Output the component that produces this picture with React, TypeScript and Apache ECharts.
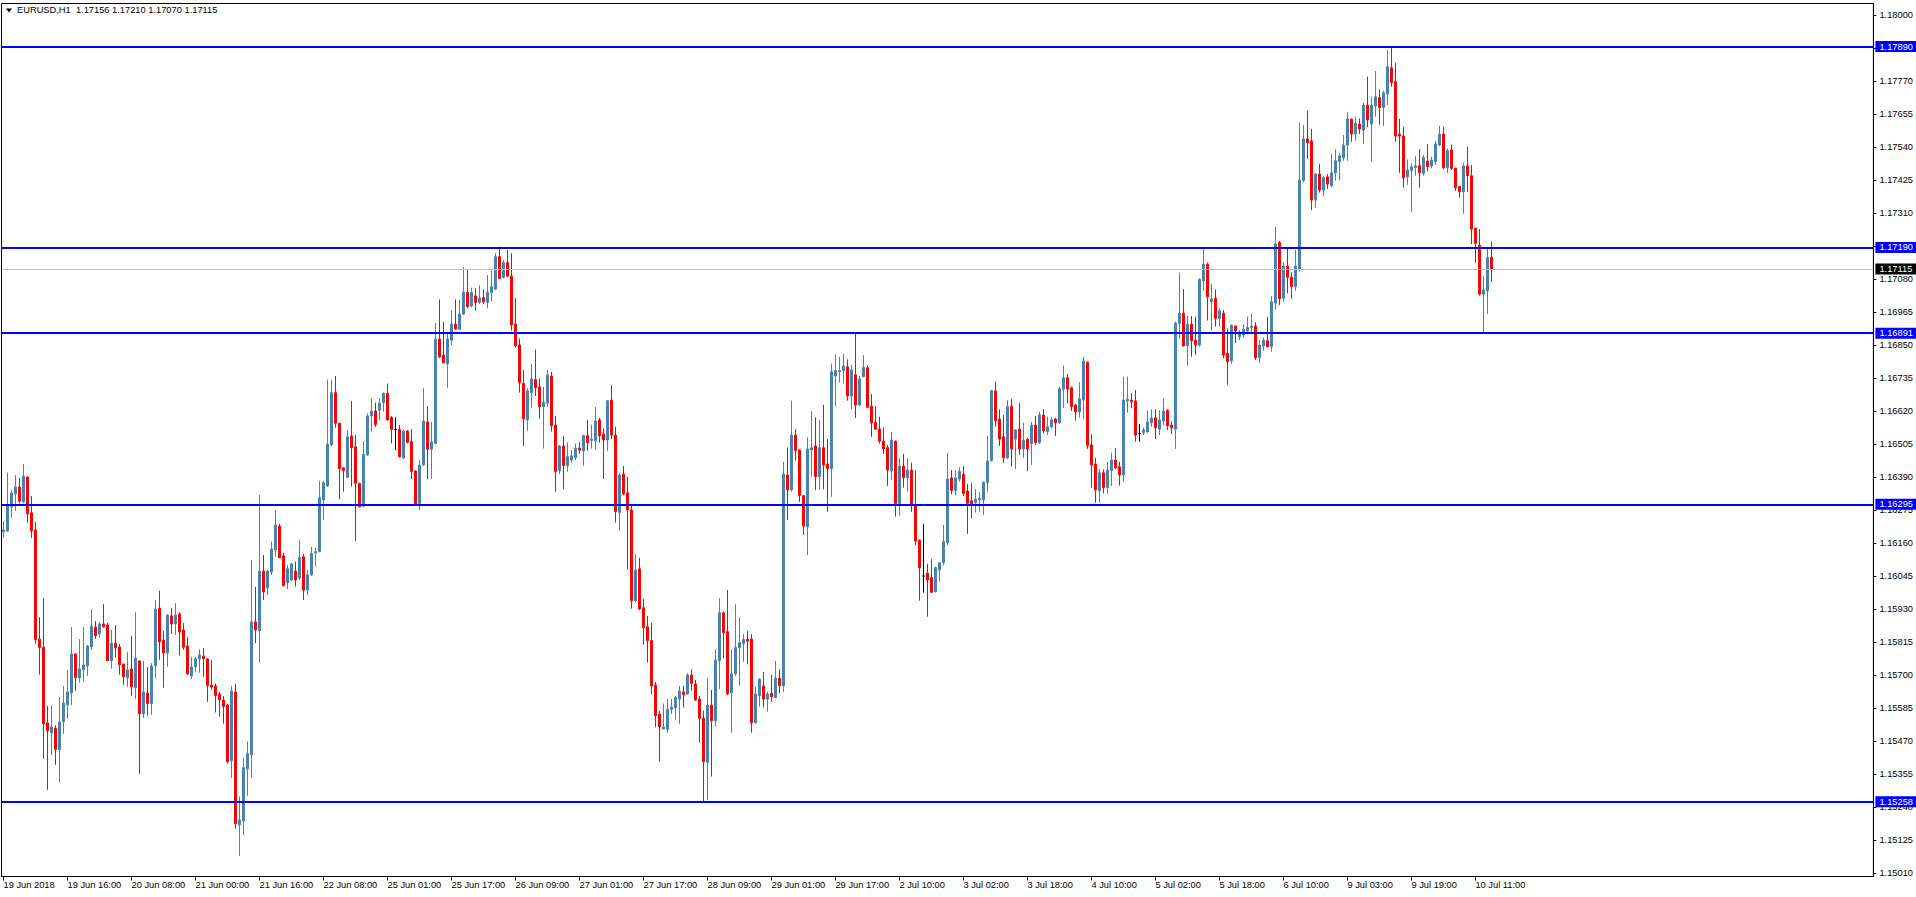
import React, { useEffect, useRef } from 'react';
import * as echarts from 'echarts';

const symbol = 'EURUSD';
const timeframe = 'H1';

// Hourly bars: [open, high, low, close]
const bars: number[][] = [
  [1.16199,1.16237,1.16178,1.16205],[1.16202,1.16405,1.16199,1.16290],[1.16286,1.16345,1.16248,1.16334],[1.16331,1.16397,1.16272,1.16355],
  [1.16355,1.16387,1.16298,1.16306],[1.16304,1.16435,1.16298,1.16393],[1.16390,1.16393,1.16231,1.16262],[1.16265,1.16324,1.16178,1.16202],
  [1.16205,1.16233,1.15809,1.15823],[1.15825,1.15902,1.15701,1.15795],[1.15797,1.15968,1.15408,1.15530],[1.15533,1.15592,1.15300,1.15506],
  [1.15499,1.15595,1.15421,1.15519],[1.15515,1.15525,1.15387,1.15440],[1.15440,1.15623,1.15325,1.15536],[1.15537,1.15662,1.15495,1.15602],
  [1.15596,1.15717,1.15547,1.15641],[1.15638,1.15867,1.15596,1.15773],[1.15773,1.15776,1.15645,1.15691],[1.15690,1.15825,1.15673,1.15721],
  [1.15718,1.15867,1.15677,1.15735],[1.15732,1.15805,1.15697,1.15801],[1.15798,1.15930,1.15788,1.15870],[1.15867,1.15888,1.15826,1.15837],
  [1.15844,1.15885,1.15830,1.15878],[1.15878,1.15947,1.15865,1.15868],[1.15874,1.15881,1.15748,1.15750],[1.15750,1.15857,1.15722,1.15811],
  [1.15811,1.15874,1.15760,1.15795],[1.15797,1.15808,1.15701,1.15736],[1.15738,1.15740,1.15666,1.15694],[1.15690,1.15780,1.15659,1.15718],
  [1.15721,1.15836,1.15628,1.15659],[1.15656,1.15919,1.15617,1.15759],[1.15749,1.15751,1.15356,1.15565],[1.15565,1.15749,1.15551,1.15641],
  [1.15637,1.15728,1.15558,1.15600],[1.15600,1.15742,1.15561,1.15731],[1.15732,1.15961,1.15690,1.15930],[1.15933,1.15993,1.15753,1.15815],
  [1.15822,1.15853,1.15656,1.15777],[1.15777,1.15912,1.15729,1.15909],[1.15906,1.15933,1.15843,1.15878],[1.15878,1.15951,1.15839,1.15909],
  [1.15912,1.15919,1.15767,1.15850],[1.15857,1.15881,1.15788,1.15797],[1.15801,1.15832,1.15701,1.15704],[1.15697,1.15763,1.15687,1.15728],
  [1.15729,1.15763,1.15711,1.15756],[1.15756,1.15790,1.15708,1.15770],[1.15766,1.15794,1.15694,1.15757],[1.15756,1.15759,1.15607,1.15663],
  [1.15665,1.15752,1.15649,1.15658],[1.15662,1.15670,1.15569,1.15628],[1.15634,1.15641,1.15555,1.15614],[1.15613,1.15627,1.15530,1.15590],
  [1.15595,1.15599,1.15391,1.15398],[1.15401,1.15662,1.15342,1.15644],[1.15641,1.15670,1.15164,1.15182],[1.15178,1.15276,1.15069,1.15195],
  [1.15191,1.15412,1.15143,1.15377],[1.15373,1.15468,1.15279,1.15426],[1.15422,1.16101,1.15342,1.15885],[1.15885,1.16007,1.15811,1.15857],
  [1.15854,1.16327,1.15743,1.16062],[1.16062,1.16118,1.15961,1.15989],[1.16003,1.16066,1.15979,1.16062],[1.16059,1.16165,1.16049,1.16139],
  [1.16136,1.16275,1.16112,1.16223],[1.16219,1.16226,1.16107,1.16109],[1.16115,1.16126,1.16010,1.16011],[1.16021,1.16083,1.15999,1.16070],
  [1.16031,1.16091,1.16028,1.16087],[1.16062,1.16095,1.16008,1.16031],[1.16038,1.16170,1.16031,1.16109],[1.16112,1.16122,1.15961,1.15996],
  [1.15996,1.16066,1.15979,1.16049],[1.16049,1.16147,1.16045,1.16124],[1.16125,1.16143,1.16078,1.16130],[1.16130,1.16377,1.16128,1.16318],
  [1.16310,1.16377,1.16240,1.16370],[1.16359,1.16730,1.16355,1.16505],[1.16502,1.16730,1.16498,1.16684],[1.16684,1.16742,1.16562,1.16577],
  [1.16577,1.16580,1.16312,1.16419],[1.16422,1.16424,1.16339,1.16412],[1.16389,1.16554,1.16386,1.16530],[1.16533,1.16655,1.16356,1.16492],
  [1.16495,1.16536,1.16168,1.16368],[1.16368,1.16370,1.16284,1.16286],[1.16289,1.16515,1.16284,1.16469],[1.16467,1.16612,1.16464,1.16603],
  [1.16603,1.16664,1.16548,1.16620],[1.16620,1.16649,1.16565,1.16573],[1.16623,1.16664,1.16589,1.16647],[1.16649,1.16684,1.16618,1.16682],
  [1.16682,1.16716,1.16587,1.16589],[1.16597,1.16603,1.16507,1.16556],[1.16556,1.16598,1.16484,1.16556],[1.16556,1.16571,1.16458,1.16461],
  [1.16457,1.16554,1.16453,1.16550],[1.16550,1.16554,1.16507,1.16511],[1.16513,1.16556,1.16383,1.16409],[1.16411,1.16414,1.16292,1.16295],
  [1.16298,1.16449,1.16275,1.16431],[1.16432,1.16700,1.16429,1.16585],[1.16582,1.16637,1.16382,1.16487],[1.16487,1.16582,1.16384,1.16512],
  [1.16507,1.16926,1.16504,1.16871],[1.16871,1.17009,1.16804,1.16809],[1.16815,1.16930,1.16785,1.16788],[1.16784,1.16891,1.16701,1.16871],
  [1.16867,1.16972,1.16850,1.16923],[1.16923,1.17009,1.16903,1.16906],[1.16905,1.17007,1.16902,1.16958],[1.16958,1.17121,1.16955,1.17035],
  [1.17033,1.17111,1.16978,1.16984],[1.16986,1.17050,1.16981,1.17033],[1.17021,1.17048,1.16970,1.16998],[1.16998,1.17058,1.16993,1.17015],
  [1.17015,1.17044,1.16993,1.17000],[1.16998,1.17094,1.16978,1.17033],[1.17033,1.17109,1.17001,1.17054],[1.17045,1.17170,1.17042,1.17158],
  [1.17158,1.17193,1.17079,1.17082],[1.17086,1.17146,1.17082,1.17137],[1.17137,1.17181,1.17086,1.17090],[1.17090,1.17170,1.16900,1.16920],
  [1.16923,1.17013,1.16842,1.16847],[1.16850,1.16873,1.16684,1.16719],[1.16716,1.16763,1.16498,1.16593],[1.16589,1.16699,1.16551,1.16690],
  [1.16684,1.16784,1.16631,1.16732],[1.16730,1.16835,1.16672,1.16701],[1.16704,1.16734,1.16593,1.16635],[1.16635,1.16704,1.16489,1.16651],
  [1.16647,1.16763,1.16635,1.16746],[1.16742,1.16756,1.16548,1.16569],[1.16571,1.16603,1.16339,1.16409],[1.16412,1.16502,1.16400,1.16498],
  [1.16498,1.16533,1.16348,1.16430],[1.16430,1.16511,1.16409,1.16461],[1.16449,1.16484,1.16438,1.16464],[1.16457,1.16507,1.16449,1.16490],
  [1.16491,1.16512,1.16471,1.16484],[1.16481,1.16537,1.16430,1.16535],[1.16534,1.16589,1.16481,1.16510],[1.16517,1.16572,1.16489,1.16522],
  [1.16517,1.16634,1.16484,1.16585],[1.16589,1.16596,1.16510,1.16534],[1.16540,1.16560,1.16383,1.16519],[1.16519,1.16658,1.16481,1.16656],
  [1.16658,1.16711,1.16522,1.16536],[1.16536,1.16565,1.16231,1.16269],[1.16266,1.16405,1.16203,1.16397],[1.16400,1.16428,1.16327,1.16331],
  [1.16335,1.16390,1.16068,1.16275],[1.16275,1.16292,1.15931,1.15959],[1.15959,1.16121,1.15955,1.16066],[1.16070,1.16109,1.15926,1.15930],
  [1.15934,1.15965,1.15805,1.15865],[1.15868,1.15906,1.15743,1.15820],[1.15820,1.15882,1.15633,1.15662],[1.15665,1.15676,1.15518,1.15558],
  [1.15564,1.15575,1.15398,1.15519],[1.15512,1.15601,1.15511,1.15519],[1.15511,1.15616,1.15499,1.15581],[1.15580,1.15616,1.15564,1.15588],
  [1.15586,1.15627,1.15545,1.15622],[1.15616,1.15662,1.15529,1.15644],[1.15641,1.15662,1.15587,1.15631],[1.15634,1.15706,1.15631,1.15700],
  [1.15700,1.15720,1.15645,1.15671],[1.15669,1.15683,1.15610,1.15613],[1.15616,1.15627,1.15464,1.15549],[1.15549,1.15576,1.15258,1.15398],
  [1.15396,1.15689,1.15264,1.15595],[1.15595,1.15648,1.15346,1.15541],[1.15541,1.15790,1.15520,1.15752],[1.15750,1.15967,1.15651,1.15917],
  [1.15917,1.15921,1.15758,1.15847],[1.15851,1.15996,1.15630,1.15634],[1.15638,1.15790,1.15499,1.15704],[1.15704,1.15947,1.15697,1.15796],
  [1.15795,1.15901,1.15663,1.15813],[1.15810,1.15843,1.15746,1.15824],[1.15825,1.15853,1.15737,1.15818],[1.15825,1.15843,1.15499,1.15534],
  [1.15534,1.15659,1.15530,1.15634],[1.15627,1.15689,1.15590,1.15685],[1.15662,1.15711,1.15587,1.15616],[1.15616,1.15642,1.15572,1.15634],
  [1.15636,1.15700,1.15607,1.15625],[1.15622,1.15749,1.15619,1.15689],[1.15689,1.15720,1.15636,1.15663],[1.15662,1.16443,1.15641,1.16400],
  [1.16397,1.16493,1.16240,1.16345],[1.16345,1.16656,1.16339,1.16536],[1.16536,1.16557,1.16447,1.16482],[1.16484,1.16486,1.16303,1.16325],
  [1.16325,1.16327,1.16188,1.16219],[1.16217,1.16528,1.16118,1.16488],[1.16484,1.16620,1.16391,1.16492],[1.16498,1.16598,1.16345,1.16391],
  [1.16391,1.16589,1.16345,1.16492],[1.16492,1.16641,1.16347,1.16432],[1.16435,1.16522,1.16269,1.16419],[1.16419,1.16786,1.16321,1.16757],
  [1.16742,1.16818,1.16637,1.16761],[1.16757,1.16809,1.16719,1.16761],[1.16761,1.16818,1.16716,1.16777],[1.16774,1.16800,1.16656,1.16672],
  [1.16672,1.16780,1.16626,1.16763],[1.16746,1.16891,1.16596,1.16641],[1.16641,1.16742,1.16638,1.16732],[1.16740,1.16815,1.16737,1.16772],
  [1.16771,1.16780,1.16631,1.16633],[1.16637,1.16679,1.16530,1.16579],[1.16580,1.16637,1.16554,1.16557],[1.16557,1.16600,1.16507,1.16515],
  [1.16515,1.16563,1.16470,1.16488],[1.16492,1.16502,1.16359,1.16414],[1.16411,1.16547,1.16380,1.16519],[1.16515,1.16517,1.16252,1.16298],
  [1.16298,1.16455,1.16255,1.16428],[1.16428,1.16470,1.16353,1.16387],[1.16387,1.16455,1.16339,1.16414],[1.16414,1.16440,1.16269,1.16292],
  [1.16290,1.16414,1.16153,1.16167],[1.16170,1.16172,1.15959,1.16074],[1.16045,1.16226,1.15987,1.16045],[1.16055,1.16087,1.15903,1.16031],
  [1.16039,1.16104,1.15986,1.15988],[1.15990,1.16078,1.15988,1.16074],[1.16066,1.16093,1.16025,1.16091],[1.16091,1.16223,1.16083,1.16165],
  [1.16161,1.16473,1.16153,1.16383],[1.16387,1.16414,1.16330,1.16343],[1.16343,1.16414,1.16327,1.16387],[1.16383,1.16424,1.16374,1.16409],
  [1.16400,1.16428,1.16324,1.16333],[1.16341,1.16366,1.16191,1.16298],[1.16307,1.16368,1.16246,1.16296],[1.16300,1.16348,1.16266,1.16313],
  [1.16310,1.16337,1.16269,1.16316],[1.16310,1.16374,1.16258,1.16372],[1.16370,1.16533,1.16339,1.16446],[1.16447,1.16693,1.16443,1.16691],
  [1.16690,1.16722,1.16565,1.16586],[1.16592,1.16626,1.16498,1.16522],[1.16530,1.16606,1.16440,1.16457],[1.16457,1.16658,1.16452,1.16635],
  [1.16637,1.16662,1.16426,1.16488],[1.16522,1.16557,1.16418,1.16554],[1.16557,1.16647,1.16467,1.16488],[1.16488,1.16579,1.16457,1.16517],
  [1.16521,1.16527,1.16411,1.16488],[1.16507,1.16582,1.16432,1.16571],[1.16571,1.16603,1.16501,1.16510],[1.16510,1.16616,1.16505,1.16606],
  [1.16606,1.16627,1.16542,1.16551],[1.16548,1.16600,1.16536,1.16565],[1.16565,1.16600,1.16560,1.16589],[1.16592,1.16597,1.16533,1.16579],
  [1.16579,1.16705,1.16575,1.16697],[1.16696,1.16778,1.16631,1.16736],[1.16736,1.16749,1.16647,1.16697],[1.16701,1.16705,1.16620,1.16635],
  [1.16641,1.16643,1.16586,1.16617],[1.16617,1.16720,1.16597,1.16662],[1.16658,1.16809,1.16591,1.16794],[1.16790,1.16792,1.16488,1.16499],
  [1.16502,1.16539,1.16353,1.16432],[1.16435,1.16457,1.16300,1.16345],[1.16343,1.16418,1.16300,1.16405],[1.16405,1.16417,1.16333,1.16353],
  [1.16353,1.16443,1.16331,1.16414],[1.16412,1.16475,1.16359,1.16449],[1.16449,1.16490,1.16417,1.16422],[1.16426,1.16443,1.16360,1.16397],
  [1.16397,1.16740,1.16374,1.16658],[1.16655,1.16740,1.16614,1.16661],[1.16658,1.16682,1.16629,1.16652],[1.16655,1.16693,1.16513,1.16536],
  [1.16542,1.16575,1.16513,1.16542],[1.16545,1.16563,1.16536,1.16554],[1.16547,1.16621,1.16545,1.16582],[1.16579,1.16626,1.16565,1.16596],
  [1.16596,1.16626,1.16522,1.16562],[1.16557,1.16623,1.16536,1.16589],[1.16585,1.16664,1.16569,1.16620],[1.16623,1.16626,1.16554,1.16569],
  [1.16571,1.16583,1.16540,1.16562],[1.16557,1.16931,1.16488,1.16926],[1.16926,1.17102,1.16872,1.16961],[1.16961,1.17045,1.16844,1.16847],
  [1.16847,1.16951,1.16778,1.16923],[1.16923,1.16951,1.16809,1.16865],[1.16867,1.16949,1.16815,1.16850],[1.16850,1.17082,1.16844,1.17079],
  [1.17074,1.17191,1.17039,1.17132],[1.17132,1.17137,1.16935,1.17018],[1.17001,1.17062,1.16900,1.17010],[1.17013,1.17044,1.16914,1.16943],
  [1.16943,1.16978,1.16914,1.16969],[1.16961,1.16972,1.16804,1.16815],[1.16821,1.16908,1.16711,1.16792],[1.16795,1.16922,1.16784,1.16919],
  [1.16916,1.16918,1.16858,1.16899],[1.16879,1.16902,1.16867,1.16891],[1.16885,1.16922,1.16877,1.16905],[1.16899,1.16949,1.16887,1.16911],
  [1.16911,1.16960,1.16887,1.16916],[1.16916,1.16929,1.16798,1.16806],[1.16806,1.16867,1.16788,1.16850],[1.16847,1.16876,1.16830,1.16867],
  [1.16865,1.16949,1.16842,1.16844],[1.16844,1.17021,1.16827,1.17001],[1.16996,1.17262,1.16974,1.17202],[1.17207,1.17212,1.16989,1.17011],
  [1.17013,1.17138,1.17001,1.17125],[1.17125,1.17191,1.17030,1.17086],[1.17086,1.17103,1.17011,1.17054],[1.17054,1.17181,1.17039,1.17125],
  [1.17114,1.17625,1.17106,1.17425],[1.17423,1.17617,1.17416,1.17568],[1.17568,1.17666,1.17498,1.17555],[1.17561,1.17603,1.17320,1.17355],
  [1.17355,1.17448,1.17328,1.17446],[1.17446,1.17481,1.17381,1.17390],[1.17390,1.17439,1.17370,1.17433],[1.17436,1.17446,1.17394,1.17411],
  [1.17405,1.17516,1.17400,1.17450],[1.17450,1.17532,1.17423,1.17492],[1.17489,1.17520,1.17423,1.17509],[1.17503,1.17582,1.17492,1.17547],
  [1.17547,1.17661,1.17492,1.17638],[1.17637,1.17640,1.17558,1.17585],[1.17585,1.17646,1.17562,1.17623],[1.17620,1.17640,1.17585,1.17603],
  [1.17599,1.17694,1.17550,1.17686],[1.17686,1.17785,1.17609,1.17634],[1.17620,1.17715,1.17489,1.17686],[1.17683,1.17805,1.17646,1.17715],
  [1.17712,1.17741,1.17617,1.17678],[1.17678,1.17736,1.17613,1.17729],[1.17725,1.17878,1.17686,1.17820],[1.17816,1.17892,1.17750,1.17764],
  [1.17768,1.17832,1.17558,1.17578],[1.17585,1.17638,1.17450,1.17578],[1.17578,1.17609,1.17398,1.17433],[1.17436,1.17497,1.17408,1.17460],
  [1.17458,1.17483,1.17314,1.17471],[1.17468,1.17509,1.17440,1.17475],[1.17475,1.17533,1.17398,1.17450],[1.17448,1.17512,1.17440,1.17503],
  [1.17491,1.17550,1.17454,1.17471],[1.17474,1.17506,1.17466,1.17495],[1.17489,1.17561,1.17477,1.17550],[1.17547,1.17614,1.17543,1.17585],
  [1.17585,1.17609,1.17463,1.17468],[1.17468,1.17535,1.17450,1.17527],[1.17530,1.17549,1.17460,1.17466],[1.17466,1.17468,1.17387,1.17398],
  [1.17402,1.17404,1.17363,1.17384],[1.17384,1.17485,1.17307,1.17474],[1.17474,1.17541,1.17384,1.17440],[1.17440,1.17477,1.17202,1.17254],
  [1.17257,1.17259,1.17135,1.17205],[1.17198,1.17254,1.17022,1.17027],[1.17027,1.17090,1.16893,1.17042],[1.17039,1.17191,1.16958,1.17156],
  [1.17156,1.17210,1.17070,1.17115],
];

// Time labels, one every 16 hourly bars
const timeLabels = [
  '19 Jun 2018', '19 Jun 16:00', '20 Jun 08:00', '21 Jun 00:00', '21 Jun 16:00', '22 Jun 08:00',
  '25 Jun 01:00', '25 Jun 17:00', '26 Jun 09:00', '27 Jun 01:00', '27 Jun 17:00', '28 Jun 09:00',
  '29 Jun 01:00', '29 Jun 17:00', '2 Jul 10:00', '3 Jul 02:00', '3 Jul 18:00', '4 Jul 10:00',
  '5 Jul 02:00', '5 Jul 18:00', '6 Jul 10:00', '9 Jul 03:00', '9 Jul 19:00', '10 Jul 11:00',
];
const labelStep = 16;
const totalSlots = 468; // bars plus empty space on the right (chart shift)

// Price scale labels
const priceTicks = [
  1.15010, 1.15125, 1.15240, 1.15355, 1.15470, 1.15585, 1.15700, 1.15815, 1.15930,
  1.16045, 1.16160, 1.16275, 1.16390, 1.16505, 1.16620, 1.16735, 1.16850, 1.16965,
  1.17080, 1.17195, 1.17310, 1.17425, 1.17540, 1.17655, 1.17770, 1.17885, 1.18000,
];
const priceMin = 1.149978;
const priceMax = 1.180401;

// Horizontal support / resistance levels
const levels = [1.17890, 1.17190, 1.16891, 1.16295, 1.15258];

const bullColor = '#4682B4';
const bearColor = '#FF0000';
const levelColor = '#0000FF';
const fontFamily = "'Liberation Sans', Arial, sans-serif";
const fontSize = 9.3;

export default function App() {
  const ref = useRef<HTMLDivElement>(null);

  useEffect(() => {
    if (!ref.current) return;
    const chart = echarts.init(ref.current, null, { renderer: 'svg' });

    const categories = Array.from({ length: totalSlots }, (_, i) =>
      i % labelStep === 0 && i / labelStep < timeLabels.length ? timeLabels[i / labelStep] : ''
    );
    const showAt = (i: number) => i % labelStep === 0 && i / labelStep < timeLabels.length;
    const candleData = bars.map(([o, h, l, c]) => [o, c, l, h]);
    const last = bars[bars.length - 1];

    chart.setOption({
      animation: false,
      backgroundColor: '#ffffff',
      title: {
        text: `${symbol},${timeframe}  ${last.map((v) => v.toFixed(5)).join(' ')}`,
        left: 17,
        top: 5,
        padding: 0,
        textStyle: { color: '#000', fontSize, fontWeight: 'normal', fontFamily },
      },
      graphic: [
        {
          type: 'polygon',
          shape: { points: [[6, 8.5], [12, 8.5], [9, 12.5]] },
          style: { fill: '#000' },
          silent: true,
        },
      ],
      grid: {
        left: 1.5,
        top: 3.5,
        right: 42.5,
        bottom: 20.5,
        show: true,
        borderColor: '#000',
        borderWidth: 1,
        backgroundColor: '#fff',
      },
      xAxis: {
        type: 'category',
        data: categories,
        boundaryGap: true,
        axisLine: { show: true, lineStyle: { color: '#000', width: 1 } },
        axisTick: {
          show: true,
          alignWithLabel: true,
          length: 4,
          interval: (i: number) => showAt(i),
          lineStyle: { color: '#000' },
        },
        axisLabel: {
          show: true,
          interval: (i: number) => showAt(i),
          align: 'left',
          margin: 4,
          color: '#000',
          fontSize,
          fontFamily,
        },
        splitLine: { show: false },
      },
      yAxis: {
        type: 'value',
        position: 'right',
        min: priceMin,
        max: priceMax,
        axisLine: { show: true, lineStyle: { color: '#000' } },
        axisTick: { show: true, length: 3, customValues: priceTicks, lineStyle: { color: '#000' } },
        axisLabel: {
          show: true,
          customValues: priceTicks,
          formatter: (v: number) => v.toFixed(5),
          margin: 6,
          color: '#000',
          fontSize,
          fontFamily,
        },
        splitLine: { show: false },
      },
      series: [
        {
          type: 'candlestick',
          data: candleData,
          barWidth: 2,
          itemStyle: {
            color: bullColor,
            color0: bearColor,
            borderColor: bullColor,
            borderColor0: bearColor,
            borderColorDoji: '#000000',
            borderWidth: 1,
          },
          markLine: {
            silent: true,
            precision: 5,
            symbol: ['none', 'none'],
            animation: false,
            lineStyle: { color: levelColor, width: 2, type: 'solid' },
            label: {
              show: true,
              position: 'end',
              distance: 2,
              formatter: (p: any) => Number(p.value).toFixed(5),
              color: '#fff',
              backgroundColor: levelColor,
              fontSize,
              fontFamily,
              lineHeight: 10,
              padding: [1, 4, 0, 4],
            },
            data: [
              { yAxis: last[3], lineStyle: { color: '#C0C0C0', width: 1, type: 'solid' }, label: { backgroundColor: '#000' } },
              ...levels.map((v) => ({ yAxis: v })),
            ],
          },
        },
      ],
    });

    return () => chart.dispose();
  }, []);

  return <div ref={ref} style={{ position: 'fixed', left: 0, top: 0, width: 1916, height: 897 }} />;
}
